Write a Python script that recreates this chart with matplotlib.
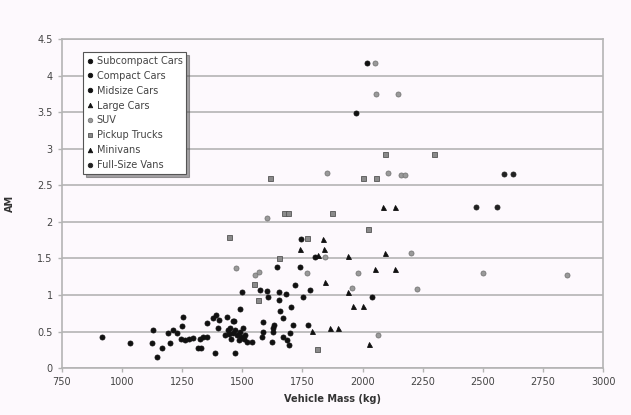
import numpy as np
import matplotlib
matplotlib.use("Agg")
import matplotlib.pyplot as plt
from matplotlib.ticker import FormatStrFormatter, MultipleLocator

plt.rcParams.update({"font.family": "DejaVu Sans", "font.size": 7})

# (vehicle mass kg, AM)
subcompact_mass = [916, 1033, 1124, 1129, 1145, 1166, 1191, 1199, 1212, 1228, 1253, 1249,
                   1245, 1262, 1280, 1295]
subcompact_am = [0.42, 0.34, 0.34, 0.52, 0.15, 0.27, 0.48, 0.34, 0.52, 0.48, 0.70, 0.57,
                 0.40, 0.38, 0.40, 0.41]
compact_mass = [1316, 1325, 1337, 1330, 1353, 1353, 1387, 1378, 1392, 1405, 1399, 1436,
                1430, 1440, 1448, 1455, 1461, 1461, 1470, 1478, 1485, 1490, 1495, 1505,
                1512, 1520, 1490, 1499, 1465, 1540, 1445, 1502, 1470]
compact_am = [0.27, 0.40, 0.42, 0.27, 0.43, 0.62, 0.20, 0.68, 0.72, 0.66, 0.55, 0.70,
              0.45, 0.52, 0.55, 0.40, 0.48, 0.64, 0.20, 0.45, 0.38, 0.50, 0.42, 0.40,
              0.45, 0.36, 0.81, 1.04, 0.65, 0.36, 0.47, 0.55, 0.52]
midsize_mass = [1574, 1586, 1586, 1582, 1603, 1607, 1644, 1653, 1653, 1657, 1628, 1632,
                1628, 1624, 1669, 1669, 1682, 1686, 1694, 1703, 1711, 1699, 1719, 1740,
                1745, 1753, 1773, 1782, 1803, 2040, 1973, 2020]
midsize_am = [1.07, 0.63, 0.49, 0.43, 1.05, 0.97, 1.38, 1.04, 0.93, 0.78, 0.55, 0.59,
              0.49, 0.36, 0.68, 0.42, 1.02, 0.38, 0.31, 0.83, 0.59, 0.48, 1.13, 1.38,
              1.77, 0.97, 0.59, 1.07, 1.52, 0.97, 3.49, 4.17]
large_mass = [1740, 1790, 1816, 1836, 1840, 1844, 1865, 1898]
large_am = [1.63, 0.51, 1.55, 1.76, 1.63, 1.18, 0.55, 0.55]
suv_mass = [1474, 1553, 1570, 1603, 1769, 1844, 1852, 1956, 1981, 2052, 2056, 2064,
            2106, 2148, 2160, 2177, 2202, 2227, 2501, 2851]
suv_am = [1.37, 1.27, 1.31, 2.05, 1.30, 1.52, 2.67, 1.09, 1.30, 4.17, 3.75, 0.45,
          2.67, 3.75, 2.64, 2.64, 1.57, 1.08, 1.30, 1.27]
pickup_mass = [1445, 1549, 1565, 1615, 1653, 1672, 1688, 1769, 1811, 1873, 2000, 2023,
               2056, 2093, 2297]
pickup_am = [1.79, 1.15, 0.93, 2.60, 1.50, 2.12, 2.12, 1.78, 0.26, 2.12, 2.60, 1.90,
             2.60, 2.93, 2.93]
minivan_mass = [1940, 1940, 1960, 2002, 2027, 2052, 2085, 2094, 2135, 2135]
minivan_am = [1.53, 1.04, 0.85, 0.85, 0.33, 1.35, 2.20, 1.57, 1.35, 2.20]
van_mass = [2472, 2559, 2588, 2626]
van_am = [2.20, 2.20, 2.65, 2.65]

series = [
    ("Subcompact Cars", subcompact_mass, subcompact_am, "o", "#111111", "#111111"),
    ("Compact Cars", compact_mass, compact_am, "o", "#111111", "#111111"),
    ("Midsize Cars", midsize_mass, midsize_am, "o", "#111111", "#111111"),
    ("Large Cars", large_mass, large_am, "^", "#111111", "#111111"),
    ("SUV", suv_mass, suv_am, "o", "#9a9a9a", "#777777"),
    ("Pickup Trucks", pickup_mass, pickup_am, "s", "#8a8a8a", "#555555"),
    ("Minivans", minivan_mass, minivan_am, "^", "#111111", "#111111"),
    ("Full-Size Vans", van_mass, van_am, "o", "#222222", "#222222"),
]

BG = "#fdf9fd"
fig = plt.figure(figsize=(6.31, 4.15), dpi=100, facecolor=BG)
ax = fig.add_axes([0.098, 0.113, 0.858, 0.793], facecolor=BG)

for lab, xs, ys, m, fc, ec in series:
    ax.plot(xs, ys, ls="none", marker=m, ms=3.6, mfc=fc, mec=ec, mew=0.6, label=lab, zorder=3)

ax.set_xlim(750, 3000)
ax.set_ylim(0, 4.5)
ax.xaxis.set_major_locator(MultipleLocator(250))
ax.yaxis.set_major_locator(MultipleLocator(0.5))
ax.yaxis.set_major_formatter(FormatStrFormatter("%g"))
ax.grid(axis="y", color="#b4b4b4", lw=1.2)
ax.set_axisbelow(True)
for s in ax.spines.values():
    s.set_color("#b4b4b4"); s.set_linewidth(1.2)
ax.tick_params(colors="#b4b4b4", labelcolor="#444444", length=3, width=1, labelsize=7)

ax.set_xlabel("Vehicle Mass (kg)", fontsize=7, fontweight="bold", color="#333333", labelpad=5)
ax.set_ylabel("AM", fontsize=7, fontweight="bold", color="#333333", labelpad=16)

leg = ax.legend(loc="upper left", bbox_to_anchor=(0.03, 0.975), fontsize=7, frameon=True,
                fancybox=False, shadow=True, handlelength=0.6, handletextpad=0.4,
                borderpad=0.4, labelspacing=0.5, markerscale=0.9)
leg.get_frame().set_edgecolor("#555555")
leg.get_frame().set_facecolor("white")
leg.get_frame().set_linewidth(0.8)
for t in leg.get_texts():
    t.set_color("#444444")

fig.savefig("out.png", dpi=100, facecolor=BG)
